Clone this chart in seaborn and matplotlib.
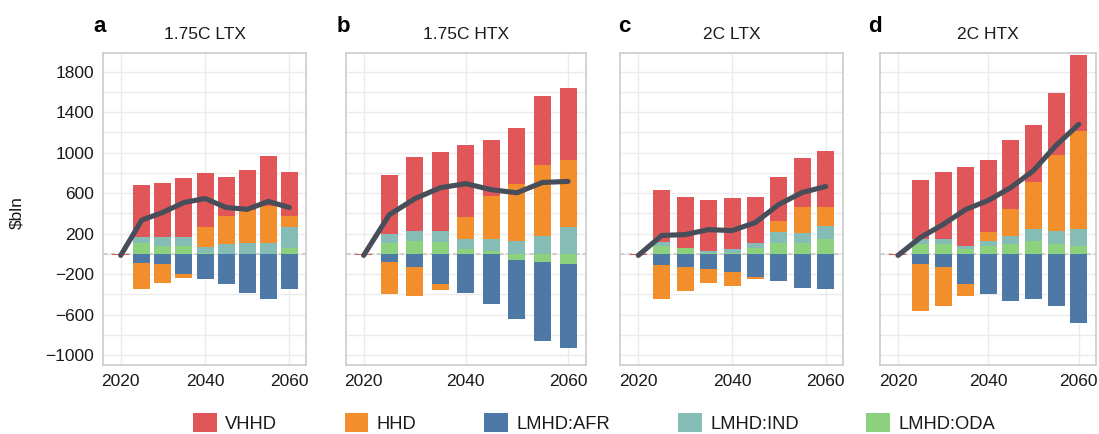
import numpy as np
import pandas as pd
import matplotlib
matplotlib.use("Agg")
import matplotlib.pyplot as plt
import seaborn as sns
from matplotlib.patches import Patch

# data ($bln)
years = [2020, 2025, 2030, 2035, 2040, 2045, 2050, 2055, 2060]
components = ["VHHD", "HHD", "LMHD:AFR", "LMHD:IND", "LMHD:ODA"]
panel_letters = ["a", "b", "c", "d"]
scenarios = ["1.75C LTX", "1.75C HTX", "2C LTX", "2C HTX"]

# 1.75C LTX
a_vhhd = [-15, 518, 535, 584, 535, 386, 393, 492, 436]
a_hhd = [0, -257, -188, -40, 191, 277, 327, 366, 109]
a_afr = [0, -92, -102, -201, -251, -300, -389, -449, -350]
a_ind = [0, 60, 89, 89, 59, 96, 109, 109, 208]
a_oda = [0, 105, 76, 76, 13, 0, 0, 0, 56]

# 1.75C HTX
b_vhhd = [-15, 584, 733, 782, 713, 554, 554, 683, 713]
b_hhd = [0, -317, -287, -59, 218, 426, 564, 703, 663]
b_afr = [0, -79, -129, -297, -386, -495, -584, -779, -828]
b_ind = [0, 89, 99, 109, 99, 119, 129, 178, 267]
b_oda = [0, 109, 129, 119, 50, 30, -59, -79, -99]

# 2C LTX
c_vhhd = [-15, 515, 500, 506, 504, 455, 436, 485, 554]
c_hhd = [0, -337, -238, -139, -139, -20, 109, 257, 188]
c_afr = [0, -112, -132, -152, -182, -231, -271, -340, -350]
c_ind = [0, 40, 5, 20, 40, 50, 109, 99, 129]
c_oda = [0, 76, 56, 5, 7, 56, 106, 106, 145]

# 2C HTX
d_vhhd = [-15, 584, 663, 782, 713, 683, 564, 614, 752]
d_hhd = [0, -465, -386, -119, 89, 267, 465, 752, 970]
d_afr = [0, -102, -132, -300, -399, -469, -449, -518, -686]
d_ind = [0, 50, 50, 30, 50, 79, 119, 129, 168]
d_oda = [0, 96, 96, 46, 76, 96, 125, 96, 76]

panel_data = {
    "1.75C LTX": [a_vhhd, a_hhd, a_afr, a_ind, a_oda],
    "1.75C HTX": [b_vhhd, b_hhd, b_afr, b_ind, b_oda],
    "2C LTX": [c_vhhd, c_hhd, c_afr, c_ind, c_oda],
    "2C HTX": [d_vhhd, d_hhd, d_afr, d_ind, d_oda],
}

rows = []
for scen, series in panel_data.items():
    for comp, vals in zip(components, series):
        for yr, v in zip(years, vals):
            rows.append((scen, comp, yr, v))
df = pd.DataFrame(rows, columns=["scenario", "component", "year", "value"])

palette = {"VHHD": "#E15759", "HHD": "#F28E2B", "LMHD:AFR": "#4E79A7",
           "LMHD:IND": "#86BCB6", "LMHD:ODA": "#8CD17D"}
line_color = "#484E59"

sns.set_theme(style="whitegrid")
plt.rcParams["font.family"] = ["Liberation Sans", "DejaVu Sans"]
plt.rcParams["text.color"] = "#1A1A1A"

W, H = 1099, 434
fig = plt.figure(figsize=(W / 100, H / 100), dpi=100)

# panel frames in pixels: left, right ; top/bottom shared
frames = [(103.3, 306.0), (345.7, 586.0), (620.0, 843.3), (880.0, 1096.0)]
xlims = [(2015.87, 2063.96), (2016.48, 2063.52), (2016.09, 2063.76), (2016.02, 2063.83)]
letter_x = [93, 337, 618, 868]
top_px, bot_px = 52.5, 364.7

for i, scen in enumerate(scenarios):
    l, r = frames[i]
    ax = fig.add_axes([l / W, (H - bot_px) / H, (r - l) / W, (bot_px - top_px) / H])
    x0, x1 = xlims[i]
    bar_w = 17 * (x1 - x0) / (r - l)

    d = df[df["scenario"] == scen].pivot(index="year", columns="component", values="value")
    pos_base = np.zeros(len(d))
    neg_base = np.zeros(len(d))
    for comp in reversed(components):
        vals = d[comp].to_numpy(dtype=float)
        base = np.where(vals >= 0, pos_base, neg_base)
        ax.bar(d.index, vals, bottom=base, width=bar_w, color=palette[comp],
               linewidth=0, zorder=2)
        pos_base += np.clip(vals, 0, None)
        neg_base += np.clip(vals, None, 0)

    net = d[components].sum(axis=1)
    sns.lineplot(x=d.index.to_numpy(), y=net.to_numpy(), ax=ax, color=line_color,
                 linewidth=3.7, solid_capstyle="round", solid_joinstyle="round", zorder=3)

    ax.axhline(0, color="#C4C4C4", linestyle=(0, (3, 2)), linewidth=1.1, zorder=1.5)

    ax.set_xlim(x0, x1)
    ax.set_ylim(-1095, 1990)
    ax.set_xticks([2020, 2040, 2060])
    ax.set_yticks(range(-1000, 1801, 400))
    ax.set_yticks(range(-800, 1801, 400), minor=True)
    ax.grid(True, which="both", axis="y", color="#EBEBEB", linewidth=1.0, zorder=0)
    ax.grid(True, which="major", axis="x", color="#EBEBEB", linewidth=1.0, zorder=0)
    ax.set_axisbelow(True)
    ax.set_xlabel("")
    ax.set_ylabel("")
    for sp in ax.spines.values():
        sp.set_color("#CCCCCC")
        sp.set_linewidth(1.2)
    ax.tick_params(axis="both", which="major", length=3.5, width=0.9, color="#BDBDBD",
                   labelsize=12.5, labelcolor="#1A1A1A", pad=3)
    ax.tick_params(axis="y", which="minor", length=0)
    if i > 0:
        ax.tick_params(axis="y", which="major", labelleft=False)

    ax.set_title(scen, fontsize=12.5, pad=9.5, color="#1A1A1A")
    fig.text(letter_x[i] / W, (H - 31.5) / H, panel_letters[i], fontsize=16,
             fontweight="bold", ha="left", va="baseline", color="#000000")

fig.text(17 / W, (H - 213) / H, "$bln", rotation=90, ha="center", va="center",
         fontsize=12.5, color="#1A1A1A")

handles = [Patch(facecolor=palette[c], edgecolor="none", label=c) for c in components]
fig.legend(handles=handles, loc="center", bbox_to_anchor=(594 / W, (H - 423) / H),
           ncol=5, frameon=False, fontsize=13.2, handlelength=1.3, handleheight=1.15,
           handletextpad=0.45, columnspacing=3.7, borderaxespad=0, borderpad=0)

fig.savefig("out.png", dpi=100)
